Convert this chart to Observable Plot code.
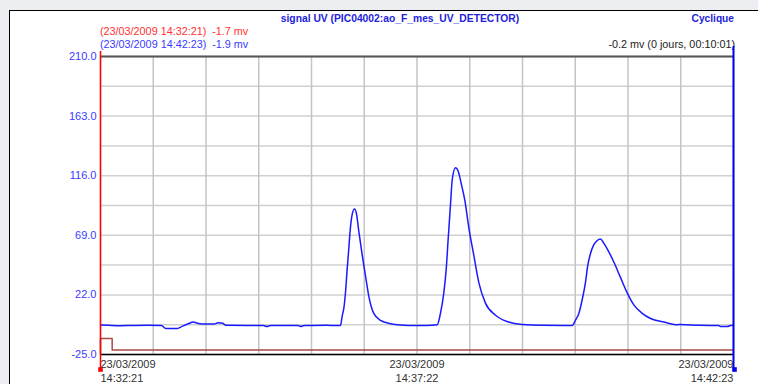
<!DOCTYPE html>
<html>
<head>
<meta charset="utf-8">
<script src="https://cdn.jsdelivr.net/npm/d3@7"></script>
<script src="https://cdn.jsdelivr.net/npm/@observablehq/plot@0.6"></script>
<style>
  html, body { margin: 0; padding: 0; }
  body { width: 758px; height: 384px; overflow: hidden; background: #eceef1; font-family: "Liberation Sans", Arial, sans-serif; }
  #wrap { position: relative; width: 758px; height: 384px; overflow: hidden; }
  #panel { position: absolute; left: 9px; top: 10px; width: 800px; height: 420px; background: #fff; border-top: 1px solid #000; border-left: 1px solid #000; }
  .t { position: absolute; font-size: 11px; line-height: 13px; white-space: pre; }
  #chart { position: absolute; left: 0; top: 0; }
</style>
</head>
<body>
<div id="wrap">
  <div id="panel"></div>
  <div class="t" id="title" style="left:400px; top:12px; transform:translateX(-50%); font-weight:bold; font-size:10.3px; color:#2222dd;"></div>
  <div class="t" id="mode" style="right:24px; top:12px; font-weight:bold; font-size:10.2px; color:#2222dd;"></div>
  <div class="t" id="cur1" style="left:100px; top:25px; font-size:10.8px; color:#ff3030;"></div>
  <div class="t" id="cur2" style="left:100px; top:38px; font-size:10.8px; color:#3a3aff;"></div>
  <div class="t" id="delta" style="right:23px; top:38px; font-size:10.8px; color:#222;"></div>
  <div id="chart"></div>
</div>
<script>
// ---- texts ----
const titleText = "signal UV (PIC04002:ao_F_mes_UV_DETECTOR)";
const modeText = "Cyclique";
const cursor1Text = "(23/03/2009 14:32:21)  -1.7 mv";
const cursor2Text = "(23/03/2009 14:42:23)  -1.9 mv";
const deltaText = "-0.2 mv (0 jours, 00:10:01)";

// ---- axis ticks ----
const yTicks = [210, 163, 116, 69, 22, -25];
const xTickSec = [0, 301, 602];
const xTickDate = ["23/03/2009", "23/03/2009", "23/03/2009"];
const xTickTime = ["14:32:21", "14:37:22", "14:42:23"];

// ---- signal UV (seconds since 14:32:21, mV) ----
const signalT = [0, 8, 19, 30, 45, 58, 62, 73, 78, 84, 88, 93, 100, 108, 112, 116, 120, 140, 155, 158, 162, 188, 190, 194, 215,
  228.2, 229.9, 231.5, 233.0, 234.6, 236.0, 237.1, 239.4, 241.6, 243.5, 245.6, 248.9, 252.0, 255.2, 259.9, 266.3, 275.8, 285.3, 300, 310,
  320.2, 323.3, 326.5, 328.8, 330.7, 332.9, 334.5, 337.6, 340.2, 343.0, 346.5, 350.3, 355.0, 359.8, 366.1, 375.7, 388.3, 401.0, 420, 440,
  448.6, 451.7, 454.9, 458.1, 461.2, 463.4, 466.0, 469.1, 472.4, 475.5, 478.6, 483.4, 488.2, 494.5, 500.9, 507.2, 515.2, 523.1, 535.7, 548.4, 551.5, 570,
  587.7, 589.6, 596.3, 599, 602];
const signalV = [-1.7, -2.0, -2.3, -2.1, -2.0, -2.2, -4.4, -4.4, -2.6, -0.6, 0.6, -0.5, -1.0, -1.0, 0.1, -0.4, -2.0, -2.1, -2.1, -2.9, -2.1, -2.1, -2.9, -2.1, -2.0,
  -2.1, 5.5, 12.0, 23.9, 42.5, 57.0, 69.5, 85.7, 89.7, 85.7, 72.5, 53.3, 37.1, 20.9, 7.4, 2.0, -0.7, -1.7, -2.1, -2.1,
  -1.5, 7.4, 23.6, 42.5, 66.8, 93.8, 112.8, 122.2, 119.5, 110.0, 96.5, 74.9, 53.3, 31.7, 15.5, 6.0, 0.6, -1.3, -2.0, -2.1,
  -2.1, 2.0, 7.4, 18.2, 31.7, 45.2, 54.7, 61.4, 64.9, 66.0, 62.8, 56.0, 47.9, 35.8, 23.6, 14.1, 7.4, 3.4, 0.6, -1.5, -1.3, -2.0,
  -2.1, -2.9, -2.9, -2.1, -1.9];

// ---- second trace (dark red) ----
const statusT = [0, 0, 11.1, 602];
const statusV = [-25, -12.4, -21.5, -21.5];

document.getElementById("title").textContent = titleText;
document.getElementById("mode").textContent = modeText;
document.getElementById("cur1").textContent = cursor1Text;
document.getElementById("cur2").textContent = cursor2Text;
document.getElementById("delta").textContent = deltaText;

const signal = signalT.map((t, i) => ({t, v: signalV[i]}));
const status = statusT.map((t, i) => ({t, v: statusV[i]}));
const yMin = -25, yMax = 210, tEnd = 602;
const hGrid = d3.range(0, 11).map(i => yMin + i * (yMax - yMin) / 10);
const vGrid = d3.range(0, 13).map(i => i * tEnd / 12);
const xLabels = xTickSec.map((s, i) => ({s, label: xTickDate[i] + "\n" + xTickTime[i]}));
const anchors = ["start", "middle", "end"];

const chart = Plot.plot({
  width: 758, height: 384,
  marginLeft: 100, marginRight: 25, marginTop: 56, marginBottom: 30,
  style: {background: "transparent", fontFamily: "'Liberation Sans', Arial, sans-serif", fontSize: "11px", overflow: "visible"},
  x: {domain: [0, tEnd], axis: null},
  y: {domain: [yMin, yMax], axis: null},
  marks: [
    Plot.ruleY(hGrid, {y: d => d, stroke: "#d0d0d0", strokeWidth: 1.5}),
    Plot.ruleX(vGrid, {x: d => d, stroke: "#c4c4c4", strokeWidth: 1.5}),
    Plot.ruleY([yMax], {y: d => d, stroke: "#555", strokeWidth: 2}),
    Plot.ruleY([yMin], {y: d => d, stroke: "#000", strokeWidth: 1.5}),
    Plot.line(status, {x: "t", y: "v", curve: "step-after", stroke: "#a84a4a", strokeWidth: 1.5}),
    Plot.line(signal, {x: "t", y: "v", curve: "monotone-x", stroke: "#1a1aff", strokeWidth: 1.5}),
    Plot.ruleX([0], {x: d => d, stroke: "#ff0000", strokeWidth: 1.5, insetBottom: -15, insetTop: -5}),
    Plot.ruleX([tEnd], {x: d => d, stroke: "#0000ee", strokeWidth: 2, insetBottom: -15, insetTop: -10}),
    Plot.dot([0], {x: d => d, frameAnchor: "bottom", dy: 15, symbol: "square", r: 2.6, fill: "#ff0000", stroke: null}),
    Plot.dot([tEnd], {x: d => d, frameAnchor: "bottom", dy: 15, dx: 1, symbol: "square", r: 2.6, fill: "#0000ee", stroke: null}),
    Plot.text(yTicks, {y: d => d, frameAnchor: "left", textAnchor: "end", dx: -4, text: d => d.toFixed(1), fill: "#3a3aff", fontSize: 11}),
    ...xLabels.map((d, i) => Plot.text([d], {x: "s", frameAnchor: "bottom", lineAnchor: "top", dy: 4, text: "label", textAnchor: anchors[i], fill: "#333", fontSize: 11, lineHeight: 1.27}))
  ]
});
document.getElementById("chart").appendChild(chart);
</script>
</body>
</html>
